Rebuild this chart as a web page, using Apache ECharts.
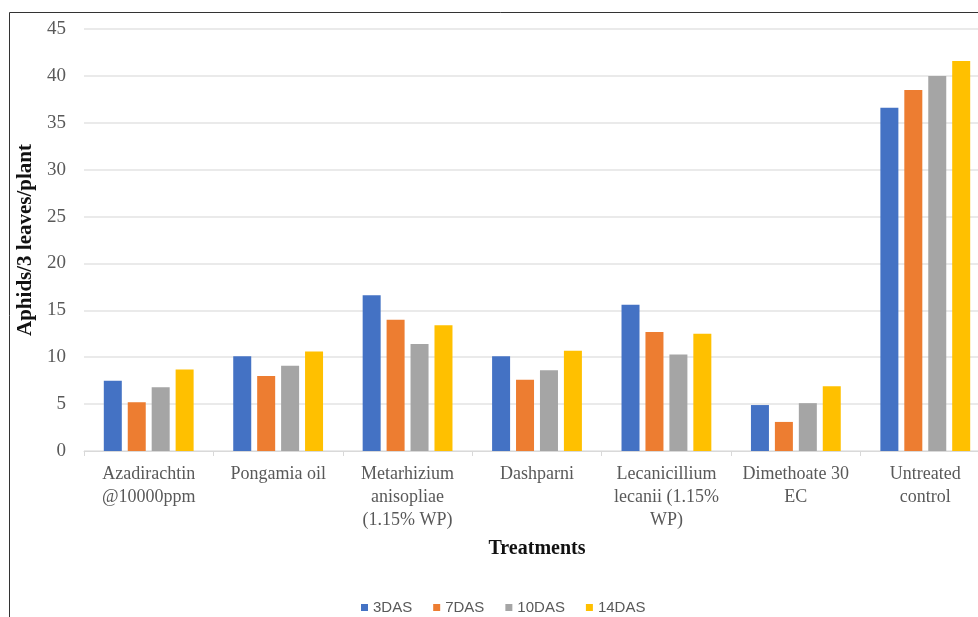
<!DOCTYPE html>
<html>
<head>
<meta charset="utf-8">
<script src="https://cdn.jsdelivr.net/npm/echarts@6/dist/echarts.min.js"></script>
<style>
  html, body { margin: 0; padding: 0; background: #fff; overflow: hidden; }
  /* the original picture is cropped on the right, so the canvas runs a bit past the window */
  #chart { width: 990px; height: 617px; }
</style>
</head>
<body>
<div id="chart"></div>
<script>
// treatments on the x axis
const treatments = [
  'Azadirachtin\n@10000ppm',
  'Pongamia oil',
  'Metarhizium\nanisopliae\n(1.15% WP)',
  'Dashparni',
  'Lecanicillium\nlecanii (1.15%\nWP)',
  'Dimethoate 30\nEC',
  'Untreated\ncontrol'
];

// aphids / 3 leaves / plant
const das3 = [7.5, 10.1, 16.6, 10.1, 15.6, 4.9, 36.6];
const das7 = [5.2, 8.0, 14.0, 7.6, 12.7, 3.1, 38.5];
const das10 = [6.8, 9.1, 11.4, 8.6, 10.3, 5.1, 40.0];
const das14 = [8.7, 10.6, 13.4, 10.7, 12.5, 6.9, 41.6];

const seriesNames = ['3DAS', '7DAS', '10DAS', '14DAS'];
const seriesData = [das3, das7, das10, das14];
const colors = ['#4472C4', '#ED7D31', '#A5A5A5', '#FFC000'];

const serif = '"Liberation Serif", "DejaVu Serif", serif';

const chart = echarts.init(document.getElementById('chart'));
chart.setOption({
  animation: false,
  color: colors,
  graphic: [
    {
      type: 'rect',
      shape: { x: 9.5, y: 12.5, width: 1000, height: 700 },
      style: { fill: 'none', stroke: '#333', lineWidth: 1 },
      silent: true
    }
  ],
  grid: { left: 84, right: 0, top: 29, bottom: 166 },
  legend: {
    top: 595,
    left: 356,
    itemWidth: 7,
    itemHeight: 7,
    itemGap: 21,
    icon: 'rect',
    textStyle: { fontFamily: '"Liberation Sans", sans-serif', fontSize: 15, color: '#595959' },
    data: seriesNames
  },
  xAxis: {
    type: 'category',
    data: treatments,
    name: 'Treatments',
    nameLocation: 'middle',
    nameGap: 88,
    nameTextStyle: { fontFamily: serif, fontSize: 20, fontWeight: 'bold', color: '#111' },
    axisLine: { lineStyle: { color: '#d9d9d9' } },
    axisTick: { show: true, length: 5, lineStyle: { color: '#d9d9d9' } },
    axisLabel: {
      interval: 0,
      margin: 12,
      fontFamily: serif,
      fontSize: 18,
      lineHeight: 23,
      color: '#595959'
    }
  },
  yAxis: {
    type: 'value',
    min: 0,
    max: 45,
    interval: 5,
    name: 'Aphids/3 leaves/plant',
    nameLocation: 'middle',
    nameGap: 46,
    nameTextStyle: { fontFamily: serif, fontSize: 21, fontWeight: 'bold', color: '#111' },
    axisLine: { show: false },
    axisTick: { show: false },
    axisLabel: { margin: 18, fontFamily: serif, fontSize: 19, color: '#595959' },
    splitLine: { lineStyle: { color: '#e3e3e3', width: 1.5 } }
  },
  series: seriesNames.map((name, i) => ({
    name: name,
    type: 'bar',
    data: seriesData[i],
    barWidth: 18,
    barGap: '33%',
    itemStyle: { color: colors[i] }
  }))
});
</script>
</body>
</html>
